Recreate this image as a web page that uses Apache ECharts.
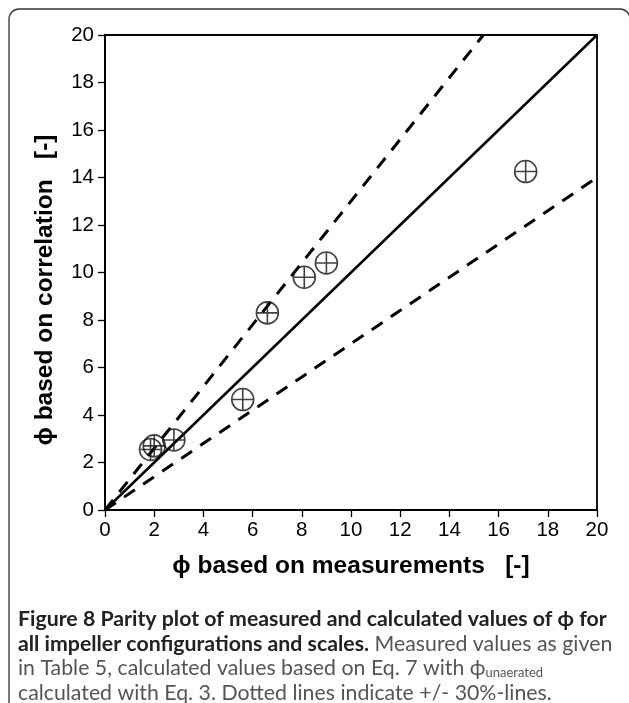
<!DOCTYPE html>
<html>
<head>
<meta charset="utf-8">
<script src="https://cdn.jsdelivr.net/npm/echarts@6/dist/echarts.min.js"></script>
<style>
  html, body { margin: 0; padding: 0; background: #fff; }
  #chart { width: 629px; height: 703px; }
</style>
</head>
<body>
<div id="chart"></div>
<script>
// measured vs. correlated phi
const measured   = [17.1, 9.0, 8.1, 6.6, 5.6, 2.8, 2.0, 1.85]
const correlated = [14.25, 10.4, 9.8, 8.3, 4.65, 2.95, 2.7, 2.55]

// parity line and +/- 30% lines (end points)
const parityLine = [[0, 0], [20, 20]]
const upperLine  = [[0, 0], [15.38, 20]]
const lowerLine  = [[0, 0], [20, 14]]

const axisTicks = [0, 2, 4, 6, 8, 10, 12, 14, 16, 18, 20]

const points = measured.map((x, i) => [x, correlated[i]])

// circle with a cross
const crossCircle = 'path://M10,0A10,10,0,1,1,-10,0A10,10,0,1,1,10,0Z M-10,0L10,0 M0,-10L0,10'

const tickFont = 'Liberation Sans, Arial, sans-serif'
const capFont = 'Lato, sans-serif'

const chart = echarts.init(document.getElementById('chart'), null, { renderer: 'canvas' })

const axisCommon = {
  type: 'value',
  min: axisTicks[0],
  max: axisTicks[axisTicks.length - 1],
  interval: 2,
  splitLine: { show: false },
  axisLine: { show: true, onZero: false, lineStyle: { color: '#000', width: 1.8 } },
  axisTick: { show: true, inside: false, length: 7, lineStyle: { color: '#000', width: 1.3 } },
  axisLabel: { color: '#000', fontSize: 20.5, fontFamily: tickFont, margin: 10 },
  nameLocation: 'middle',
  nameTextStyle: { color: '#000', fontSize: 24.5, fontWeight: 'bold', fontFamily: tickFont }
}

const option = {
  animation: false,
  backgroundColor: '#fff',
  grid: {
    left: 105, right: 32, top: 35, bottom: 193,
    show: true, borderColor: '#000', borderWidth: 1.8, backgroundColor: 'transparent'
  },
  xAxis: Object.assign({}, axisCommon, {
    name: 'ϕ based on measurements   [-]',
    nameGap: 44
  }),
  yAxis: Object.assign({}, axisCommon, {
    axisLabel: { color: '#000', fontSize: 20.5, fontFamily: tickFont, margin: 11 }
  }),
  graphic: [
    {
      type: 'rect',
      shape: { x: 9, y: 9, width: 621, height: 720, r: [10, 10, 0, 0] },
      style: { fill: 'none', stroke: '#333', lineWidth: 1.3 },
      silent: true
    },
    {
      type: 'text',
      x: 45,
      y: 290,
      rotation: Math.PI / 2,
      style: {
        text: 'ϕ based on correlation   [-]',
        fontFamily: tickFont, fontSize: 24.5, fontWeight: 'bold', fill: '#000',
        align: 'center', verticalAlign: 'middle'
      }
    },
    {
      type: 'text',
      left: 18,
      top: 609,
      style: {
        text: [
          '{b|Figure 8 Parity plot of measured and calculated values of ϕ for}',
          '{b|all impeller configurations and scales.}{r| Measured values as given}',
          '{r|in Table 5, calculated values based on Eq. 7 with ϕ}{s|unaerated}',
          '{r|calculated with Eq. 3. Dotted lines indicate +/- 30%-lines.}'
        ].join('\n'),
        rich: {
          b: { fontFamily: capFont, fontWeight: 'bold', fontSize: 21.3, fill: '#222', lineHeight: 24.5 },
          r: { fontFamily: capFont, fontSize: 21.3, fill: '#555', lineHeight: 24.5 },
          s: { fontFamily: capFont, fontSize: 13, fill: '#555', lineHeight: 24.5, padding: [9, 0, 0, 0] }
        }
      }
    }
  ],
  series: [
    {
      type: 'line',
      data: parityLine,
      showSymbol: false,
      lineStyle: { color: '#000', width: 2.5 },
      z: 2
    },
    {
      type: 'line',
      data: upperLine,
      showSymbol: false,
      lineStyle: { color: '#000', width: 3, type: [13, 10] },
      z: 2
    },
    {
      type: 'line',
      data: lowerLine,
      showSymbol: false,
      lineStyle: { color: '#000', width: 3, type: [13, 10] },
      z: 2
    },
    {
      type: 'scatter',
      data: points,
      symbol: crossCircle,
      symbolSize: 22,
      itemStyle: { color: 'rgba(0,0,0,0)', borderColor: '#111', borderWidth: 1.6 },
      z: 3
    }
  ]
}

chart.setOption(option)
</script>
</body>
</html>
